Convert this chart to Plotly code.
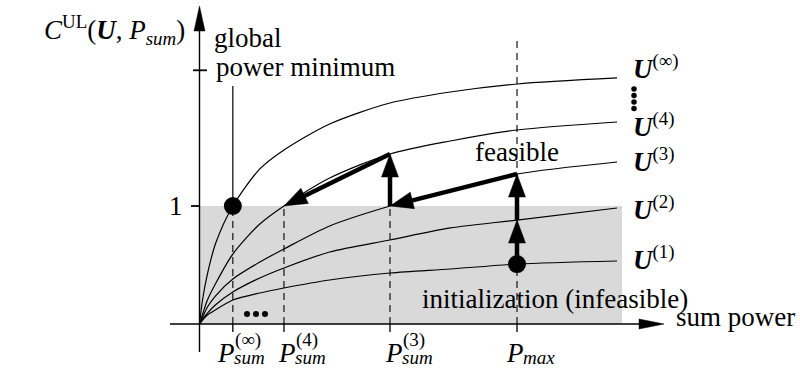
import math
import plotly.graph_objects as go

# ---------------------------------------------------------------- data ----
# sum-power grid (normalised so that P_max = 1)
p_sum = [0.0, 0.01, 0.025, 0.05, 0.105, 0.19, 0.266, 0.41, 0.6, 0.79, 1.0, 1.315]

# C^UL(U^(k), P_sum) of the successive iterates on that grid
c_u1 = [0.0, 0.034, 0.076, 0.119, 0.203, 0.263, 0.305, 0.373, 0.432, 0.466, 0.508, 0.534]
c_u2 = [0.0, 0.042, 0.093, 0.161, 0.271, 0.390, 0.475, 0.610, 0.712, 0.814, 0.881, 0.983]
c_u3 = [0.0, 0.059, 0.144, 0.237, 0.381, 0.525, 0.636, 0.831, 1.000, 1.136, 1.271, 1.373]
c_u4 = [0.0, 0.085, 0.203, 0.339, 0.593, 0.847, 1.000, 1.237, 1.441, 1.551, 1.644, 1.712]
c_uinf = [0.0, 0.212, 0.424, 0.678, 1.000, 1.314, 1.475, 1.695, 1.873, 1.966, 2.034, 2.085]

curves = [c_u1, c_u2, c_u3, c_u4, c_uinf]
curve_sup = ["(1)", "(2)", "(3)", "(4)", "(∞)"]

# grid indices of the marked powers
i_inf, i_4, i_3, i_max = 4, 6, 8, 10
tick_idx = [i_inf, i_4, i_3, i_max]
tick_sup = ["(∞)", "(4)", "(3)", ""]
tick_sub = ["sum", "sum", "sum", "max"]

# y-axis ticks
c_ticks = [1.0, 2.15]
c_tick_text = ["1", ""]

# iteration path: (P, C) corners visited by the algorithm
path_p = [p_sum[i_max], p_sum[i_max], p_sum[i_max], p_sum[i_3], p_sum[i_3], p_sum[i_4]]
path_c = [c_u1[i_max], c_u2[i_max], c_u3[i_max], c_u3[i_3], c_u4[i_3], c_u4[i_4]]

# --------------------------------------------------------------- layout ---
W, H = 800, 369
OX, OY = 199.5, 324.0          # pixel position of the origin
SX, SY = 317.5, 118.0          # pixels per unit of P and of C
X_RANGE = [-OX / SX, (W - OX) / SX]
Y_RANGE = [-(H - OY) / SY, OY / SY]


def xd(px):
    return (px - OX) / SX


def yd(py):
    return (OY - py) / SY


FONT = "'Liberation Serif', 'DejaVu Serif', 'Times New Roman', serif"
BIG = 27
SMALL = 19

fig = go.Figure()
shapes = []
annotations = []


def line_shape(x0, y0, x1, y1, width=1.2, dash=None, layer="below"):
    ln = dict(color="black", width=width)
    if dash:
        ln["dash"] = dash
    return dict(type="line", xref="x", yref="y", x0=x0, y0=y0, x1=x1, y1=y1,
                line=ln, layer=layer)


def head(tail, tip, length, half_w):
    ux = (tip[0] - tail[0]) * SX
    uy = (tip[1] - tail[1]) * SY
    n = math.hypot(ux, uy)
    ux, uy = ux / n, uy / n
    bx, by = -ux * length, -uy * length
    pts = [(0.0, 0.0),
           (bx - uy * half_w, by + ux * half_w),
           (bx + uy * half_w, by - ux * half_w)]
    d = "M " + " L ".join(f"{tip[0] + px / SX:.5f},{tip[1] + py / SY:.5f}" for px, py in pts) + " Z"
    return dict(type="path", xref="x", yref="y", path=d, fillcolor="black",
                line=dict(color="black", width=0.5), layer="above")


def shorten(tail, tip, by_px):
    ux = (tip[0] - tail[0]) * SX
    uy = (tip[1] - tail[1]) * SY
    n = math.hypot(ux, uy)
    return (tip[0] - ux / n * by_px / SX, tip[1] - uy / n * by_px / SY)


# infeasible region C < 1
shapes.append(dict(type="rect", xref="x", yref="y", x0=0, x1=xd(622), y0=0, y1=1,
                   fillcolor="#d9d9d9", line=dict(width=0), layer="below"))

# dashed guides at the marked powers
for k, i in enumerate(tick_idx):
    top = yd(40) if i == i_max else 1.0
    shapes.append(line_shape(p_sum[i], 0, p_sum[i], top, width=1.1, dash="7px,5px"))
    shapes.append(line_shape(p_sum[i], 0, p_sum[i], yd(332), width=1.3))

# pointer from the "global power minimum" label
shapes.append(line_shape(p_sum[i_inf], c_uinf[i_inf], p_sum[i_inf], yd(86), width=1.2))

# axes with arrow heads
x_tail, x_tip = (xd(170), 0.0), (xd(664), 0.0)
y_tail, y_tip = (0.0, yd(352)), (0.0, yd(6))
shapes.append(line_shape(x_tail[0], 0, xd(650), 0, width=1.4))
shapes.append(line_shape(0, y_tail[1], 0, yd(20), width=1.4))
shapes.append(head(x_tail, x_tip, 25, 5))
shapes.append(head(y_tail, y_tip, 25, 5.5))

# y ticks
shapes.append(line_shape(xd(191), c_ticks[0], 0, c_ticks[0], width=1.8))
shapes.append(line_shape(xd(193), c_ticks[1], xd(207), c_ticks[1], width=1.8))

# utility curves
for c in curves:
    fig.add_trace(go.Scatter(x=p_sum, y=c, mode="lines",
                             line=dict(color="black", width=1.2, shape="spline", smoothing=0.8),
                             hoverinfo="skip"))

# iteration arrows
for k in range(len(path_p) - 1):
    tail = (path_p[k], path_c[k])
    tip = (path_p[k + 1], path_c[k + 1])
    end = shorten(tail, tip, 12)
    fig.add_trace(go.Scatter(x=[tail[0], end[0]], y=[tail[1], end[1]], mode="lines",
                             line=dict(color="black", width=4.5), hoverinfo="skip"))
    shapes.append(head(tail, tip, 23, 8.5))

# initial point and global minimum
fig.add_trace(go.Scatter(x=[path_p[0], p_sum[i_inf]], y=[path_c[0], c_uinf[i_inf]],
                         mode="markers", marker=dict(color="black", size=18),
                         hoverinfo="skip"))

# ellipses: more iterates to come
fig.add_trace(go.Scatter(x=[xd(247), xd(256), xd(265)], y=[yd(314)] * 3, mode="markers",
                         marker=dict(color="black", size=6), hoverinfo="skip"))
fig.add_trace(go.Scatter(x=[xd(634)] * 4, y=[yd(89), yd(95.5), yd(102), yd(108.5)],
                         mode="markers", marker=dict(color="black", size=5.5),
                         hoverinfo="skip"))


def text(x, y, s, size=BIG, anchor="left", xshift=0, yshift=0):
    annotations.append(dict(x=x, y=y, xref="x", yref="y", text=s, showarrow=False,
                            xanchor=anchor, yanchor="middle", xshift=xshift, yshift=yshift,
                            font=dict(family=FONT, size=size, color="black")))


# axis titles and labels
text(0, yd(30), "<i>C</i><sup>UL</sup>(<b><i>U</i></b>, <i>P</i><sub><i>sum</i></sub>)",
     anchor="right", xshift=-13)
text(0, c_ticks[0], c_tick_text[0], anchor="right", xshift=-15)
text(0, yd(38), "global", xshift=12)
text(0, yd(67), "power minimum", xshift=14)
text(p_sum[i_max], yd(152), "feasible", anchor="center")
text(xd(420), yd(299), "initialization (infeasible)")
text(xd(674), yd(317), "sum power")

# curve labels
label_y = [258, 208, 160, 125, 67]
for sup, py in zip(curve_sup, label_y):
    text(xd(631), yd(py), f"<b><i>U</i></b><sup>{sup}</sup>")

# power tick labels
p_left = [-18, -8, -7, -13]
for i, sup, sub, dx in zip(tick_idx, tick_sup, tick_sub, p_left):
    text(p_sum[i], yd(353), "<i>P</i>", xshift=dx)
    if sup:
        text(p_sum[i], yd(340), sup, size=SMALL, xshift=dx + 18)
    text(p_sum[i], yd(357), f"<i>{sub}</i>", size=SMALL, xshift=dx + 17)

fig.update_layout(
    width=W, height=H, autosize=False,
    margin=dict(l=0, r=0, t=0, b=0, pad=0),
    paper_bgcolor="white", plot_bgcolor="white",
    showlegend=False,
    font=dict(family=FONT),
    xaxis=dict(range=X_RANGE, visible=False, fixedrange=True),
    yaxis=dict(range=Y_RANGE, visible=False, fixedrange=True),
    shapes=shapes, annotations=annotations,
)

fig.write_html("out.html")
